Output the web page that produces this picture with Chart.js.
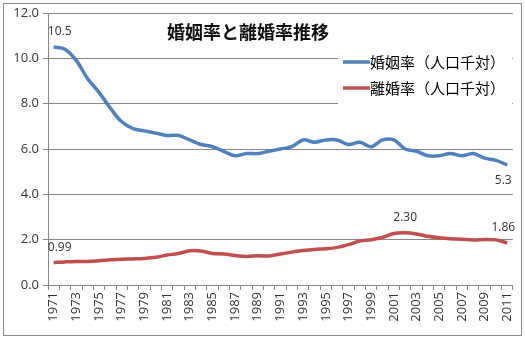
<!DOCTYPE html>
<html>
<head>
<meta charset="utf-8">
<script src="https://cdn.jsdelivr.net/npm/chart.js@4"></script>
<style>
  html, body { margin: 0; padding: 0; background: #fff; }
  #wrap { width: 525px; height: 338px; }
</style>
</head>
<body>
<div id="wrap"><canvas id="rateChart" width="525" height="338"></canvas></div>
<script>
const years = [];
for (let y = 1971; y <= 2011; y++) years.push(String(y));

const marriageRate = [10.5, 10.4, 9.9, 9.1, 8.5, 7.8, 7.2, 6.9, 6.8, 6.7, 6.6, 6.6, 6.4, 6.2, 6.1, 5.9, 5.7, 5.8, 5.8, 5.9,
  6.0, 6.1, 6.4, 6.3, 6.4, 6.4, 6.2, 6.3, 6.1, 6.4, 6.4, 6.0, 5.9, 5.7, 5.7, 5.8, 5.7, 5.8, 5.6, 5.5, 5.3];
const divorceRate = [0.99, 1.02, 1.04, 1.04, 1.07, 1.11, 1.14, 1.15, 1.17, 1.22, 1.32, 1.39, 1.51, 1.50, 1.39, 1.37, 1.30, 1.26, 1.29, 1.28,
  1.37, 1.45, 1.52, 1.57, 1.60, 1.66, 1.78, 1.94, 2.00, 2.10, 2.27, 2.30, 2.25, 2.15, 2.08, 2.04, 2.02, 1.99, 2.01, 1.99, 1.86];
const yTicks = [0, 2, 4, 6, 8, 10, 12];

const titleText = "婚姻率と離婚率推移";
const seriesNames = ["婚姻率（人口千対）", "離婚率（人口千対）"];
// which points get a value label: [datasetIndex, pointIndex, text, above?]
const pointLabels = [
  [0, 0, "10.5", true],
  [0, 40, "5.3", false],
  [1, 0, "0.99", true],
  [1, 31, "2.30", true],
  [1, 40, "1.86", true]
];

const jpFont = "'Noto Sans CJK JP', sans-serif";
const numFont = "'Open Sans', 'DejaVu Sans', sans-serif";

const decorPlugin = {
  id: "decor",
  beforeDraw(chart) {
    const ctx = chart.ctx;
    ctx.save();
    ctx.fillStyle = "#fff";
    ctx.fillRect(0, 0, chart.width, chart.height);
    ctx.restore();
  },
  afterDatasetsDraw(chart) {
    const ctx = chart.ctx;
    ctx.save();
    // value labels
    ctx.font = "12px " + numFont;
    ctx.fillStyle = "#333";
    ctx.textAlign = "center";
    pointLabels.forEach(([ds, i, txt, above]) => {
      const pt = chart.getDatasetMeta(ds).data[i];
      let x = pt.x;
      if (i === 0) x += 6;
      if (i === 40) x -= 4;
      ctx.textBaseline = above ? "bottom" : "top";
      ctx.fillText(txt, x, above ? pt.y - 9 : pt.y + 10);
    });

    // title
    ctx.font = "bold 18px " + jpFont;
    ctx.fillStyle = "#111";
    ctx.textAlign = "left";
    ctx.textBaseline = "middle";
    ctx.fillText(titleText, 167, 32);

    // legend box
    const lx = 338, ly = 47;
    ctx.fillStyle = "#fff";
    ctx.fillRect(lx, ly, chart.chartArea.right - lx - 1, 62);
    const colors = [chart.data.datasets[0].borderColor, chart.data.datasets[1].borderColor];
    ctx.font = "15px " + jpFont;
    seriesNames.forEach((name, k) => {
      const y = 62 + k * 26;
      ctx.strokeStyle = colors[k];
      ctx.lineWidth = 3.5;
      ctx.beginPath();
      ctx.moveTo(343, y);
      ctx.lineTo(370, y);
      ctx.stroke();
      ctx.fillStyle = "#000";
      ctx.fillText(name, 370, y);
    });

    // outer border
    ctx.strokeStyle = "#888";
    ctx.lineWidth = 1;
    ctx.strokeRect(3.5, 3.5, chart.width - 7, chart.height - 6);
    ctx.restore();
  }
};

const ctx = document.getElementById("rateChart");
new Chart(ctx, {
  type: "line",
  data: {
    labels: years,
    datasets: [
      {
        label: seriesNames[0],
        data: marriageRate,
        borderColor: "#4F81BD",
        borderWidth: 3.5,
        pointRadius: 0,
        tension: 0.35,
        fill: false
      },
      {
        label: seriesNames[1],
        data: divorceRate,
        borderColor: "#C0504D",
        borderWidth: 3.5,
        pointRadius: 0,
        tension: 0.35,
        fill: false
      }
    ]
  },
  options: {
    responsive: false,
    animation: false,
    layout: { padding: { left: 3, right: 12, top: 13, bottom: 0 } },
    plugins: {
      legend: { display: false },
      tooltip: { enabled: false }
    },
    scales: {
      x: {
        offset: true,
        grid: {
          display: true,
          drawOnChartArea: false,
          drawTicks: true,
          tickLength: 5,
          offset: true,
          color: "#868686"
        },
        border: { color: "#868686" },
        ticks: {
          autoSkip: false,
          maxRotation: 90,
          minRotation: 90,
          font: { size: 13, family: numFont },
          color: "#333",
          padding: 2,
          callback: function (v, i) { return i % 2 === 0 ? years[i] : ""; }
        },
        afterFit(scale) { scale.height = 53; }
      },
      y: {
        min: 0,
        max: 12,
        afterBuildTicks(scale) { scale.ticks = yTicks.map(v => ({ value: v })); },
        grid: { color: "#868686", tickLength: 5 },
        border: { color: "#868686" },
        ticks: {
          font: { size: 13, family: numFont },
          color: "#333",
          padding: 4,
          callback: v => v.toFixed(1)
        },
        afterFit(scale) { scale.width = 45; }
      }
    }
  },
  plugins: [decorPlugin]
});
</script>
</body>
</html>
